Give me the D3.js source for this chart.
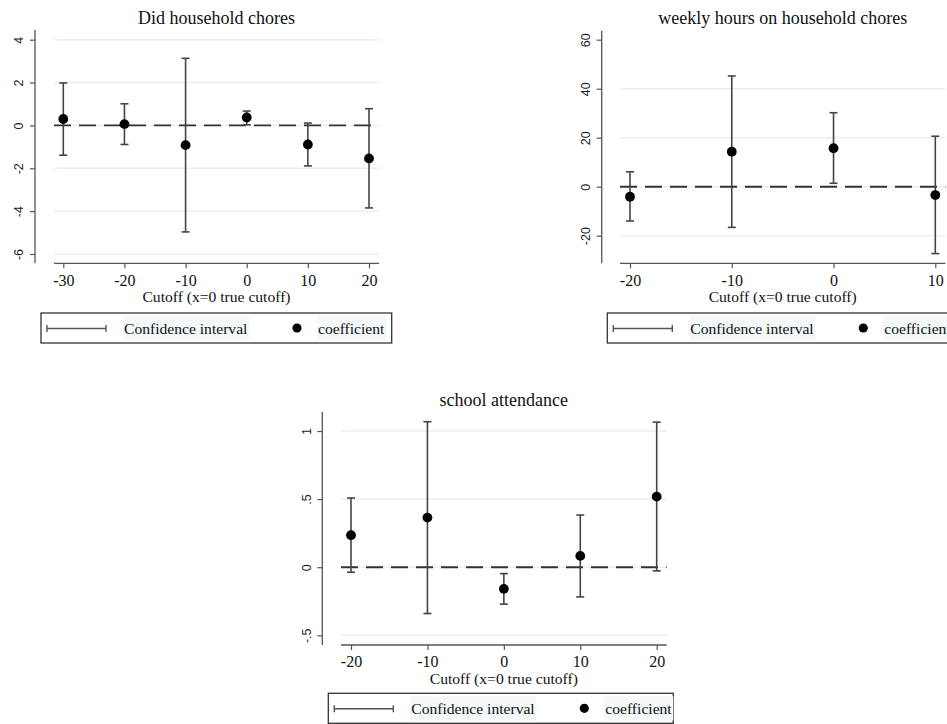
<!DOCTYPE html>
<html>
<head>
<meta charset="utf-8">
<script src="https://cdn.jsdelivr.net/npm/d3@7"></script>
<style>
  html, body { margin: 0; padding: 0; background: #fff; }
  svg { display: block; }
</style>
</head>
<body>
<svg id="chart" width="947" height="724"></svg>
<script>
// Cutoff placements (x = 0 is the true cutoff)
const choresCutoffs = [-30, -20, -10, 0, 10, 20];
const choresCoef    = [0.30, 0.06, -0.92, 0.37, -0.89, -1.54];
const choresLower   = [-1.39, -0.89, -4.97, 0.03, -1.89, -3.85];
const choresUpper   = [1.98, 1.01, 3.13, 0.67, 0.11, 0.78];
const choresYTicks  = [-6, -4, -2, 0, 2, 4];
const choresXTicks  = [-30, -20, -10, 0, 10, 20];

const hoursCutoffs = [-20, -10, 0, 10];
const hoursCoef    = [-4.1, 14.3, 15.7, -3.4];
const hoursLower   = [-14.0, -16.6, 1.4, -27.3];
const hoursUpper   = [6.1, 45.2, 30.2, 20.6];
const hoursYTicks  = [-20, 0, 20, 40, 60];
const hoursGrid    = [-20, 0, 20, 40];
const hoursXTicks  = [-20, -10, 0, 10];

const schoolCutoffs = [-20, -10, 0, 10, 20];
const schoolCoef    = [0.235, 0.364, -0.159, 0.083, 0.518];
const schoolLower   = [-0.037, -0.34, -0.271, -0.218, -0.027];
const schoolUpper   = [0.508, 1.068, -0.047, 0.383, 1.065];
const schoolYTicks  = [-0.5, 0, 0.5, 1];
const schoolXTicks  = [-20, -10, 0, 10, 20];

const xTitle = "Cutoff (x=0 true cutoff)";
const legendLabels = ["Confidence interval", "coefficient"];

const svg = d3.select("#chart");
const serif = "'Liberation Serif', 'Times New Roman', serif";
const sans = "'Liberation Sans', Arial, sans-serif";

// Stata-style tick label: plain hyphen, no leading zero (".5", "-.5")
function stataFmt(v) {
  return String(v).replace(/^0\./, ".").replace(/^-0\./, "-.");
}

function drawPanel(p) {
  const g = svg.append("g");
  const x = d3.scaleLinear().domain(p.xDomain).range(p.xRange);
  const y = d3.scaleLinear().domain(p.yDomain).range(p.yRange);

  // light horizontal gridlines
  g.selectAll("line.grid").data(p.grid).join("line")
    .attr("x1", p.plotLeft).attr("x2", p.plotRight)
    .attr("y1", d => y(d)).attr("y2", d => y(d))
    .attr("stroke", "#e8f0f0").attr("stroke-width", 1.5);

  // y axis
  const yAxis = d3.axisLeft(y).tickValues(p.yTicks).tickSize(5).tickPadding(4)
    .tickFormat(stataFmt);
  const ya = g.append("g").attr("transform", `translate(${p.yAxisX},0)`).call(yAxis);
  ya.select(".domain").remove();
  ya.append("line").attr("x1", 0).attr("x2", 0)
    .attr("y1", p.yAxisTop).attr("y2", p.yAxisBottom)
    .attr("stroke", "#555").attr("stroke-width", 1.3);
  ya.selectAll(".tick line").attr("stroke", "#555").attr("stroke-width", 1.2);
  ya.selectAll(".tick text")
    .attr("font-family", sans).attr("font-size", 12.5).attr("fill", "#222")
    .attr("text-anchor", "middle")
    .attr("x", 0).attr("dy", 0)
    .attr("transform", "translate(-15,0) rotate(-90)")
    .attr("dominant-baseline", "middle");

  // x axis
  const xAxis = d3.axisBottom(x).tickValues(p.xTicks).tickSize(5).tickPadding(6)
    .tickFormat(stataFmt);
  const xa = g.append("g").attr("transform", `translate(0,${p.xAxisY})`).call(xAxis);
  xa.select(".domain").remove();
  xa.append("line").attr("x1", p.plotLeft).attr("x2", p.plotRight)
    .attr("y1", 0).attr("y2", 0)
    .attr("stroke", "#555").attr("stroke-width", 1.3);
  xa.selectAll(".tick line").attr("stroke", "#555").attr("stroke-width", 1.2);
  xa.selectAll(".tick text")
    .attr("font-family", serif).attr("font-size", 16).attr("fill", "#111");

  // zero reference line
  g.append("line")
    .attr("x1", p.plotLeft).attr("x2", p.plotRight)
    .attr("y1", y(0)).attr("y2", y(0))
    .attr("stroke", "#333").attr("stroke-width", 1.9)
    .attr("stroke-dasharray", "17,8");

  const rows = p.cutoffs.map((c, i) => ({ c, b: p.coef[i], lo: p.lower[i], hi: p.upper[i] }));

  // confidence intervals with caps
  const ci = g.selectAll("g.ci").data(rows).join("g");
  ci.append("line")
    .attr("x1", d => x(d.c)).attr("x2", d => x(d.c))
    .attr("y1", d => y(d.lo)).attr("y2", d => y(d.hi))
    .attr("stroke", "#444").attr("stroke-width", 1.6);
  ci.append("line")
    .attr("x1", d => x(d.c) - 4).attr("x2", d => x(d.c) + 4)
    .attr("y1", d => y(d.hi)).attr("y2", d => y(d.hi))
    .attr("stroke", "#444").attr("stroke-width", 1.6);
  ci.append("line")
    .attr("x1", d => x(d.c) - 4).attr("x2", d => x(d.c) + 4)
    .attr("y1", d => y(d.lo)).attr("y2", d => y(d.lo))
    .attr("stroke", "#444").attr("stroke-width", 1.6);

  // point estimates
  g.selectAll("circle.coef").data(rows).join("circle")
    .attr("cx", d => x(d.c)).attr("cy", d => y(d.b)).attr("r", 4.9)
    .attr("fill", "#000");

  // title
  g.append("text")
    .attr("x", (p.plotLeft + p.plotRight) / 2).attr("y", p.titleY)
    .attr("text-anchor", "middle")
    .attr("font-family", serif).attr("font-size", 18).attr("fill", "#111")
    .text(p.title);

  // x axis title
  g.append("text")
    .attr("x", (p.plotLeft + p.plotRight) / 2).attr("y", p.xAxisY + 39)
    .attr("text-anchor", "middle")
    .attr("font-family", serif).attr("font-size", 15.6).attr("fill", "#111")
    .text(xTitle);

  // legend
  const L = g.append("g").attr("transform", `translate(${p.legendX},${p.legendY})`);
  L.append("rect").attr("x", 0).attr("y", 0).attr("width", p.legendW).attr("height", 30)
    .attr("fill", "#fff").attr("stroke", "#333").attr("stroke-width", 1.3);
  L.append("line").attr("x1", 6).attr("x2", 65).attr("y1", 15.5).attr("y2", 15.5)
    .attr("stroke", "#555").attr("stroke-width", 1.6);
  [6, 65].forEach(cx => L.append("line")
    .attr("x1", cx).attr("x2", cx).attr("y1", 12).attr("y2", 19)
    .attr("stroke", "#555").attr("stroke-width", 1.4));
  const t1 = L.append("text").attr("x", 83).attr("y", 20.5)
    .attr("font-family", serif).attr("font-size", 15.6).attr("fill", "#111")
    .text(legendLabels[0]);
  L.append("circle").attr("cx", 256).attr("cy", 15).attr("r", 4.6).attr("fill", "#000");
  const t2 = L.append("text").attr("x", 277).attr("y", 20.5)
    .attr("font-family", serif).attr("font-size", 15.6).attr("fill", "#111")
    .text(legendLabels[1]);
  [t1, t2].forEach(t => {
    const bb = t.node().getBBox();
    L.insert("rect", "text").attr("x", bb.x - 1).attr("y", 3)
      .attr("width", bb.width + 2).attr("height", 24)
      .attr("fill", "#f3f8f8");
  });
}

drawPanel({
  title: "Did household chores",
  cutoffs: choresCutoffs, coef: choresCoef, lower: choresLower, upper: choresUpper,
  yTicks: choresYTicks, grid: choresYTicks, xTicks: choresXTicks,
  xDomain: [-30, 20], xRange: [63.3, 369],
  yDomain: [-6, 4], yRange: [254, 39.7],
  plotLeft: 54, plotRight: 379, yAxisX: 35, yAxisTop: 30, yAxisBottom: 263.3,
  xAxisY: 263.3, titleY: 24,
  legendX: 41, legendY: 313, legendW: 350.7
});

drawPanel({
  title: "weekly hours on household chores",
  cutoffs: hoursCutoffs, coef: hoursCoef, lower: hoursLower, upper: hoursUpper,
  yTicks: hoursYTicks, grid: hoursGrid, xTicks: hoursXTicks,
  xDomain: [-20, 10], xRange: [630, 935.3],
  yDomain: [-20, 60], yRange: [235.7, 39.7],
  plotLeft: 620, plotRight: 945.4, yAxisX: 601.7, yAxisTop: 30.7, yAxisBottom: 263.3,
  xAxisY: 263.3, titleY: 24,
  legendX: 607.3, legendY: 313, legendW: 350.7
});

drawPanel({
  title: "school attendance",
  cutoffs: schoolCutoffs, coef: schoolCoef, lower: schoolLower, upper: schoolUpper,
  yTicks: schoolYTicks, grid: schoolYTicks, xTicks: schoolXTicks,
  xDomain: [-20, 20], xRange: [351, 656.7],
  yDomain: [-0.5, 1], yRange: [635.3, 431],
  plotLeft: 341, plotRight: 666.7, yAxisX: 322.3, yAxisTop: 411.7, yAxisBottom: 645,
  xAxisY: 645, titleY: 406,
  legendX: 328.3, legendY: 693.3, legendW: 345
});
</script>
</body>
</html>
